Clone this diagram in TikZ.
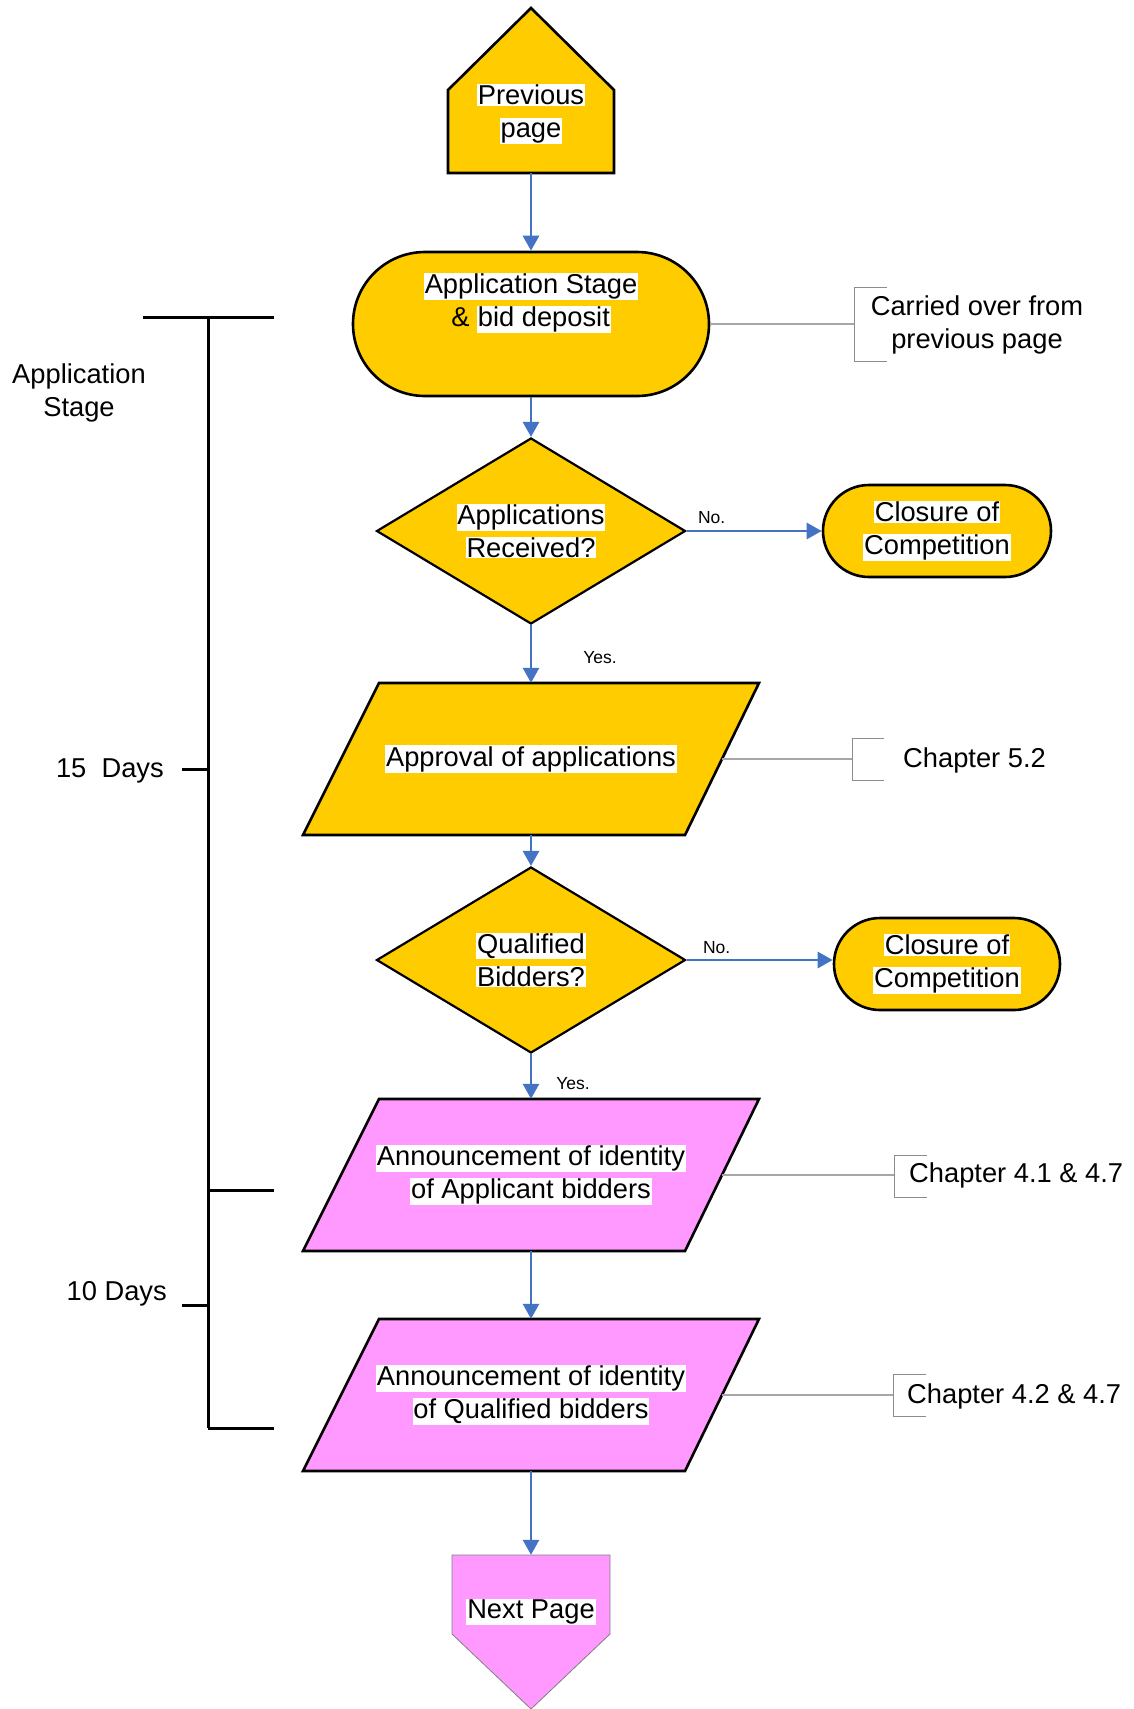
\documentclass[tikz,border=0pt]{standalone}
\usepackage{fontspec}
\setmainfont{Liberation Sans}
\usetikzlibrary{shapes.geometric,shapes.misc,arrows.meta,calc}
\definecolor{ylw}{HTML}{FFCC00}
\definecolor{pnk}{HTML}{FF99FF}
\definecolor{flow}{HTML}{4472C4}
\definecolor{annot}{HTML}{A6A6A6}
\definecolor{brkgray}{HTML}{8C8C8C}
% white highlight behind a line of text
\newcommand\hl[1]{{\setlength{\fboxsep}{0.8pt}\colorbox{white}{\vphantom{A}#1}}}

\begin{document}
\begin{tikzpicture}[x=1pt,y=-1pt,
  every node/.style={font=\fontsize{27.3}{33}\selectfont, inner sep=0pt, align=center},
  term/.style={rounded rectangle, draw=black, line width=2.6pt, fill=ylw},
  decision/.style={diamond, draw=black, line width=2.2pt, fill=ylw, aspect=1.66,
    minimum width=309pt, minimum height=186pt},
  iobox/.style={minimum width=456pt, minimum height=152pt},
  ioshape/.style={draw=black, line width=2.6pt},
  flowline/.style={draw=flow, line width=2.8pt, -{Triangle[length=15pt,width=16pt]}},
  annline/.style={draw=annot, line width=1.5pt},
  brk/.style={draw=brkgray, line width=1pt},
  small/.style={font=\fontsize{17.5}{21}\selectfont},
  bar/.style={line width=3pt, draw=black}]

\fill[white] (0,0) rectangle (1134,1709);
\useasboundingbox (0,0) rectangle (1134,1709);

% off-page connector at the top
\path[fill=ylw, draw=black, line width=2.6pt]
  (448,173) -- (448,90) -- (531,8) -- (614,90) -- (614,173) -- cycle;
\node[minimum width=166pt, minimum height=118pt] (prev) at (531,114) {\hl{Previous}\\\hl{page}};

% application stage
\node[term, minimum width=356pt, minimum height=144pt] (app) at (531,324) {};
\node (apptext) at (531,303) {\hl{Application Stage}\\\& \hl{bid deposit}};

\node[decision] (recv) at (531,531) {\hl{Applications}\\\hl{Received?}};
\node[term, minimum width=228pt, minimum height=92pt] (close1) at (937,531) {\hl{Closure of}\\\hl{Competition}};

% parallelograms (slant 76 over a height of 152)
\path[ioshape, fill=ylw] (379,683) -- (759,683) -- (685,835) -- (303,835) -- cycle;
\node[iobox] (approve) at (531,759) {\hl{Approval of applications}};
\coordinate (approveR) at (722,759);

\node[decision] (qual) at (531,960) {\hl{Qualified}\\\hl{Bidders?}};
\node[term, minimum width=226pt, minimum height=92pt] (close2) at (947,964) {\hl{Closure of}\\\hl{Competition}};

\path[ioshape, fill=pnk] (379,1099) -- (759,1099) -- (685,1251) -- (303,1251) -- cycle;
\node[iobox] (annA) at (531,1175) {\hl{Announcement of identity}\\\hl{of Applicant bidders}};
\coordinate (annAR) at (722,1175);

\path[ioshape, fill=pnk] (379,1319) -- (759,1319) -- (685,1471) -- (303,1471) -- cycle;
\node[iobox] (annQ) at (531,1395) {\hl{Announcement of identity}\\\hl{of Qualified bidders}};
\coordinate (annQR) at (722,1395);

% off-page connector at the bottom
\path[fill=pnk, draw=gray, line width=0.8pt]
  (452,1555) -- (610,1555) -- (610,1634) -- (531,1709) -- (452,1634) -- cycle;
\node[minimum width=158pt, minimum height=114pt] (next) at (531,1612) {\hl{Next Page}};

% flow
\draw[flowline] (prev.south) -- (app.north);
\draw[flowline] (app.south) -- (recv.north);
\draw[flowline] (recv.east) -- (close1.west)
  node[small, pos=0, anchor=south west, xshift=10pt, yshift=6pt] {No.};
\draw[flowline] (recv.south) -- (approve.north)
  node[small, pos=0.56, anchor=west, xshift=51pt] {Yes.};
\draw[flowline] (approve.south) -- (qual.north);
\draw[flowline] (qual.east) -- (qual.east -| close2.west)
  node[small, pos=0, anchor=south west, xshift=15pt, yshift=5pt] {No.};
\draw[flowline] (qual.south) -- (annA.north)
  node[small, pos=0.67, anchor=west, xshift=24pt] {Yes.};
\draw[flowline] (annA.south) -- (annQ.north);
\draw[flowline] (annQ.south) -- (next.north);

% annotations
\node (carried) at (977,324.5) {Carried over from\\previous page};
\coordinate (b1) at (854,324);
\draw[brk] (887,287) -- (854,287) -- (854,361) -- (887,361);
\draw[annline] (app.east) -- (b1);

\node[anchor=west] (ch52) at (903,760) {Chapter 5.2};
\coordinate (b2) at (852,759);
\draw[brk] (884,738) -- (852,738) -- (852,780) -- (884,780);
\draw[annline] (approveR) -- (b2);

\node[anchor=west] (ch41) at (909,1175) {Chapter 4.1 \& 4.7};
\coordinate (b3) at (894,1175);
\draw[brk] (927,1155) -- (894,1155) -- (894,1197) -- (927,1197);
\draw[annline] (annAR) -- (b3);

\node[anchor=west] (ch42) at (907,1396) {Chapter 4.2 \& 4.7};
\coordinate (b4) at (893,1395);
\draw[brk] (926,1374) -- (893,1374) -- (893,1416) -- (926,1416);
\draw[annline] (annQR) -- (b4);

% timeline on the left
\draw[bar] (208,317) -- (208,1428);
\draw[bar] (143,317) -- (274,317);
\draw[bar] (182,769) -- (208,769);
\draw[bar] (208,1190) -- (274,1190);
\draw[bar] (182,1305) -- (208,1305);
\draw[bar] (208,1428) -- (274,1428);
\node (stage) at (79,393) {Application\\Stage};
\node[anchor=east] (d15) at (164,771) {15\ \ Days};
\node[anchor=east] (d10) at (167,1294) {10 Days};
\end{tikzpicture}
\end{document}
